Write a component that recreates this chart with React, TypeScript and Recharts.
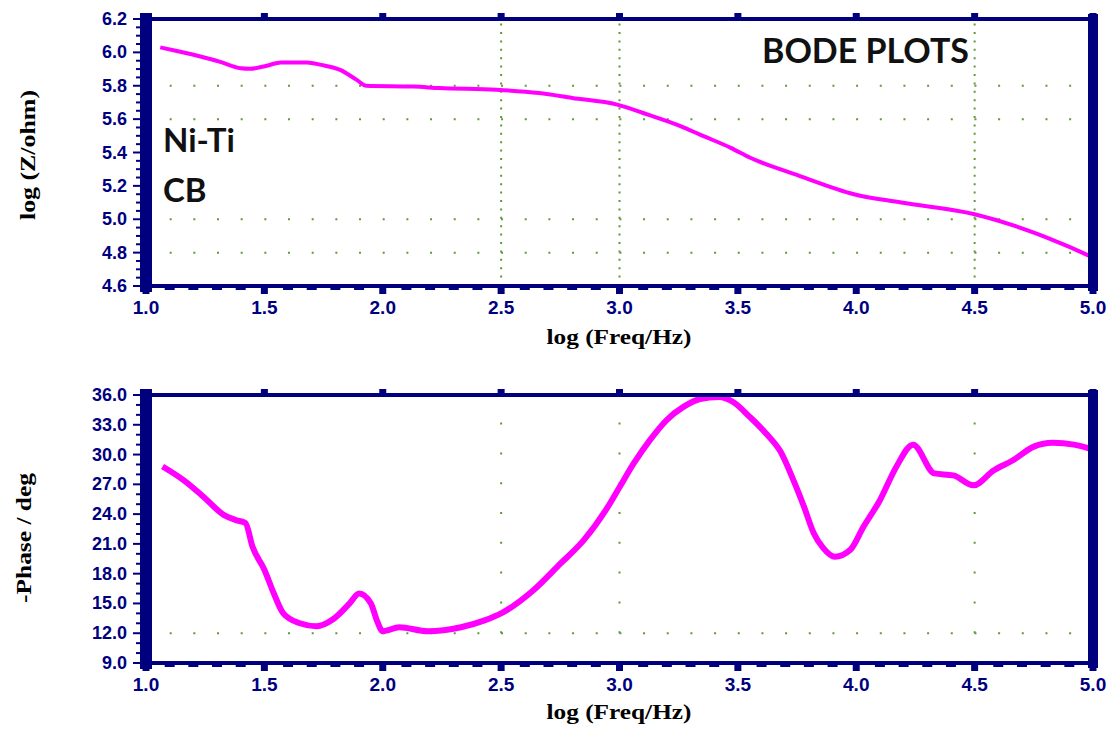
import { LineChart, Line, XAxis, YAxis, ReferenceLine } from "recharts";

const NAVY = "#00007f";
const MAGENTA = "#ff00ff";
const GRID = "#5e9a36";

// log(Freq/Hz) vs log(Z/ohm)
const freqZ = [
  1.06, 1.14, 1.23, 1.31, 1.4, 1.44, 1.51, 1.57, 1.68, 1.74, 1.82, 1.89, 1.93,
  2.13, 2.24, 2.48, 2.66, 2.8, 2.99, 3.12, 3.26, 3.34, 3.47, 3.55, 3.76, 3.99,
  4.19, 4.5, 4.75, 4.89, 5.0,
];
const logZ = [
  6.03, 6.005, 5.975, 5.945, 5.905, 5.902, 5.92, 5.94, 5.94, 5.925, 5.895, 5.835,
  5.8, 5.795, 5.786, 5.776, 5.756, 5.727, 5.687, 5.627, 5.557, 5.507, 5.428,
  5.37, 5.26, 5.15, 5.1, 5.03, 4.92, 4.84, 4.77,
];

// log(Freq/Hz) vs -phase, lower trace
const freqPhase = [
  1.07, 1.16, 1.24, 1.33, 1.38, 1.42, 1.45, 1.5, 1.54, 1.58, 1.65, 1.72, 1.79,
  1.86, 1.9, 1.95, 1.975, 2.0, 2.07, 2.19, 2.33, 2.43, 2.5, 2.64, 2.75, 2.85,
  2.95, 3.0, 3.06, 3.13, 3.2, 3.27, 3.34, 3.42, 3.48, 3.55, 3.62, 3.68, 3.735,
  3.78, 3.82, 3.86, 3.91, 3.975, 4.03, 4.1, 4.17, 4.24, 4.33, 4.41, 4.495, 4.58,
  4.66, 4.75, 4.83, 4.92, 5.0,
];
const phase = [
  28.8, 27.4, 25.8, 23.9, 23.4, 23.1, 20.7, 18.4, 16.0, 14.0, 13.0, 12.7, 13.4,
  15.0, 16.0, 15.0, 13.3, 12.2, 12.6, 12.2, 12.6, 13.3, 14.0, 16.4, 19.0, 21.4,
  24.7, 26.7, 29.1, 31.5, 33.5, 34.8, 35.6, 35.8, 35.3, 33.8, 32.1, 30.3, 27.4,
  24.7, 22.1, 20.6, 19.7, 20.4, 22.7, 25.4, 28.8, 31.0, 28.1, 27.9, 26.9, 28.4,
  29.4, 30.8, 31.2, 31.0, 30.5,
];

const xMajor = [1.0, 1.5, 2.0, 2.5, 3.0, 3.5, 4.0, 4.5, 5.0];
const xMinor = [
  1.0, 1.1, 1.2, 1.3, 1.4, 1.5, 1.6, 1.7, 1.8, 1.9, 2.0, 2.1, 2.2, 2.3, 2.4, 2.5,
  2.6, 2.7, 2.8, 2.9, 3.0, 3.1, 3.2, 3.3, 3.4, 3.5, 3.6, 3.7, 3.8, 3.9, 4.0, 4.1,
  4.2, 4.3, 4.4, 4.5, 4.6, 4.7, 4.8, 4.9, 5.0,
];
const zMajor = [4.6, 4.8, 5.0, 5.2, 5.4, 5.6, 5.8, 6.0, 6.2];
const zMinor = [
  4.6, 4.65, 4.7, 4.75, 4.8, 4.85, 4.9, 4.95, 5.0, 5.05, 5.1, 5.15, 5.2, 5.25,
  5.3, 5.35, 5.4, 5.45, 5.5, 5.55, 5.6, 5.65, 5.7, 5.75, 5.8, 5.85, 5.9, 5.95,
  6.0, 6.05, 6.1, 6.15, 6.2,
];
const phMajor = [9, 12, 15, 18, 21, 24, 27, 30, 33, 36];
const phMinor = [
  9, 10, 11, 12, 13, 14, 15, 16, 17, 18, 19, 20, 21, 22, 23, 24, 25, 26, 27, 28,
  29, 30, 31, 32, 33, 34, 35, 36,
];
const gridX = [2.5, 3.0, 4.5];
const zGridY = [5.8, 5.6, 5.0, 4.8];
const phGridY = [12];

const tickFont = { fontFamily: "Arial, 'Liberation Sans', sans-serif", fontWeight: 700 };

// bottom axis: little blocks hanging under the frame, labels on majors
const BottomTick = (props: any) => {
  const { x, y, payload } = props;
  const v = payload.value;
  const major = xMajor.includes(v);
  return (
    <g>
      {major ? (
        <rect x={x - 3.5} y={y} width={7} height={8} fill={NAVY} />
      ) : (
        <rect x={x - 5} y={y} width={10} height={4} fill={NAVY} />
      )}
      {major && (
        <text x={x} y={y + 28} textAnchor="middle" fill={NAVY} fontSize={19} style={tickFont}>
          {v.toFixed(1)}
        </text>
      )}
    </g>
  );
};

const TopTick = (props: any) => {
  const { x, y } = props;
  return <rect x={x - 3.5} y={y - 6} width={7} height={5} fill={NAVY} />;
};

const makeLeftTick = (majors: number[]) => (props: any) => {
  const { x, y, payload } = props;
  const v = payload.value;
  const major = majors.includes(v);
  return (
    <g>
      <line x1={x - (major ? 13 : 10)} x2={x - 5} y1={y} y2={y} stroke={NAVY} strokeWidth={2} />
      {major && (
        <text x={x - 19} y={y} dy={6} textAnchor="end" fill={NAVY} fontSize={18} style={tickFont}>
          {v.toFixed(1)}
        </text>
      )}
    </g>
  );
};

const makeRightTick = (majors: number[]) => (props: any) => {
  const { x, y, payload } = props;
  const major = majors.includes(payload.value);
  return <line x1={x + 4} x2={x + (major ? 13 : 10)} y1={y} y2={y} stroke={NAVY} strokeWidth={2} />;
};

interface PanelProps {
  freq: number[];
  values: number[];
  domain: [number, number];
  majors: number[];
  minors: number[];
  gridY: number[];
  vDash: string;
  height: number;
  bottomH: number;
  lineW: number;
}

function Panel({ freq, values, domain, majors, minors, gridY, vDash, height, bottomH, lineW }: PanelProps) {
  const data = freq.map((f, i) => ({ f, v: values[i] }));
  return (
    <LineChart width={1112} height={height} data={data} margin={{ top: 0, right: 0, bottom: 0, left: 0 }}>
      <XAxis
        dataKey="f"
        type="number"
        domain={[1, 5]}
        ticks={xMinor}
        interval={0}
        height={bottomH}
        tickSize={0}
        tickMargin={0}
        tickLine={false}
        axisLine={{ stroke: NAVY, strokeWidth: 4 }}
        tick={BottomTick}
      />
      <XAxis
        xAxisId="t"
        orientation="top"
        dataKey="f"
        type="number"
        domain={[1, 5]}
        ticks={xMajor}
        interval={0}
        height={19}
        tickSize={0}
        tickMargin={0}
        tickLine={false}
        axisLine={{ stroke: NAVY, strokeWidth: 4 }}
        tick={TopTick}
      />
      <YAxis
        type="number"
        domain={domain}
        ticks={minors}
        interval={0}
        width={146}
        tickSize={0}
        tickMargin={0}
        tickLine={false}
        axisLine={{ stroke: NAVY, strokeWidth: 12, strokeLinecap: "square" }}
        tick={makeLeftTick(majors)}
      />
      <YAxis
        yAxisId="r"
        orientation="right"
        type="number"
        domain={domain}
        ticks={minors}
        interval={0}
        width={19}
        tickSize={0}
        tickMargin={0}
        tickLine={false}
        axisLine={{ stroke: NAVY, strokeWidth: 10, strokeLinecap: "square" }}
        tick={makeRightTick(majors)}
      />
      {gridY.map((v) => (
        <ReferenceLine key={"h" + v} y={v} stroke={GRID} strokeWidth={2} strokeDasharray="2 21.67" />
      ))}
      {gridX.map((v) => (
        <ReferenceLine key={"v" + v} x={v} stroke={GRID} strokeWidth={2} strokeDasharray={vDash} />
      ))}
      <Line
        dataKey="v"
        type="monotone"
        stroke={MAGENTA}
        strokeWidth={lineW}
        dot={false}
        activeDot={false}
        isAnimationActive={false}
      />
    </LineChart>
  );
}

const titleFont = { fontFamily: "'Liberation Serif', 'Times New Roman', serif", fontWeight: 700 };
const noteFont = { fontFamily: "Lato, 'Open Sans', sans-serif", fontWeight: 700 };

export default function App() {
  return (
    <div style={{ position: "absolute", left: 0, top: 0, width: 1112, height: 729, background: "#fff" }}>
      <div style={{ position: "absolute", left: 0, top: 0 }}>
        <Panel
          freq={freqZ}
          values={logZ}
          domain={[4.6, 6.2]}
          majors={zMajor}
          minors={zMinor}
          gridY={zGridY}
          vDash="2 6.4"
          height={345}
          bottomH={59}
          lineW={4}
        />
      </div>
      <div style={{ position: "absolute", left: 0, top: 376 }}>
        <Panel
          freq={freqPhase}
          values={phase}
          domain={[9, 36]}
          majors={phMajor}
          minors={phMinor}
          gridY={phGridY}
          vDash="2 27.8"
          height={353}
          bottomH={66}
          lineW={6}
        />
      </div>
      <svg width={1112} height={729} style={{ position: "absolute", left: 0, top: 0, pointerEvents: "none" }}>
        <text x={619} y={344} textAnchor="middle" fontSize={20} textLength={145} lengthAdjust="spacingAndGlyphs" style={titleFont}>
          log (Freq/Hz)
        </text>
        <text x={619} y={719} textAnchor="middle" fontSize={20} textLength={145} lengthAdjust="spacingAndGlyphs" style={titleFont}>
          log (Freq/Hz)
        </text>
        <text
          transform="translate(35 155) rotate(-90)"
          textAnchor="middle"
          fontSize={20}
          textLength={130}
          lengthAdjust="spacingAndGlyphs"
          style={titleFont}
        >
          log (Z/ohm)
        </text>
        <text
          transform="translate(31 538) rotate(-90)"
          textAnchor="middle"
          fontSize={20}
          textLength={130}
          lengthAdjust="spacingAndGlyphs"
          style={titleFont}
        >
          -Phase / deg
        </text>
        <text x={163} y={152} fontSize={33} fill="#111" style={noteFont}>
          Ni-Ti
        </text>
        <text x={163} y={202} fontSize={33} fill="#111" style={noteFont}>
          CB
        </text>
        <text x={762} y={63} fontSize={34} fill="#111" style={noteFont}>
          BODE PLOTS
        </text>
      </svg>
    </div>
  );
}
